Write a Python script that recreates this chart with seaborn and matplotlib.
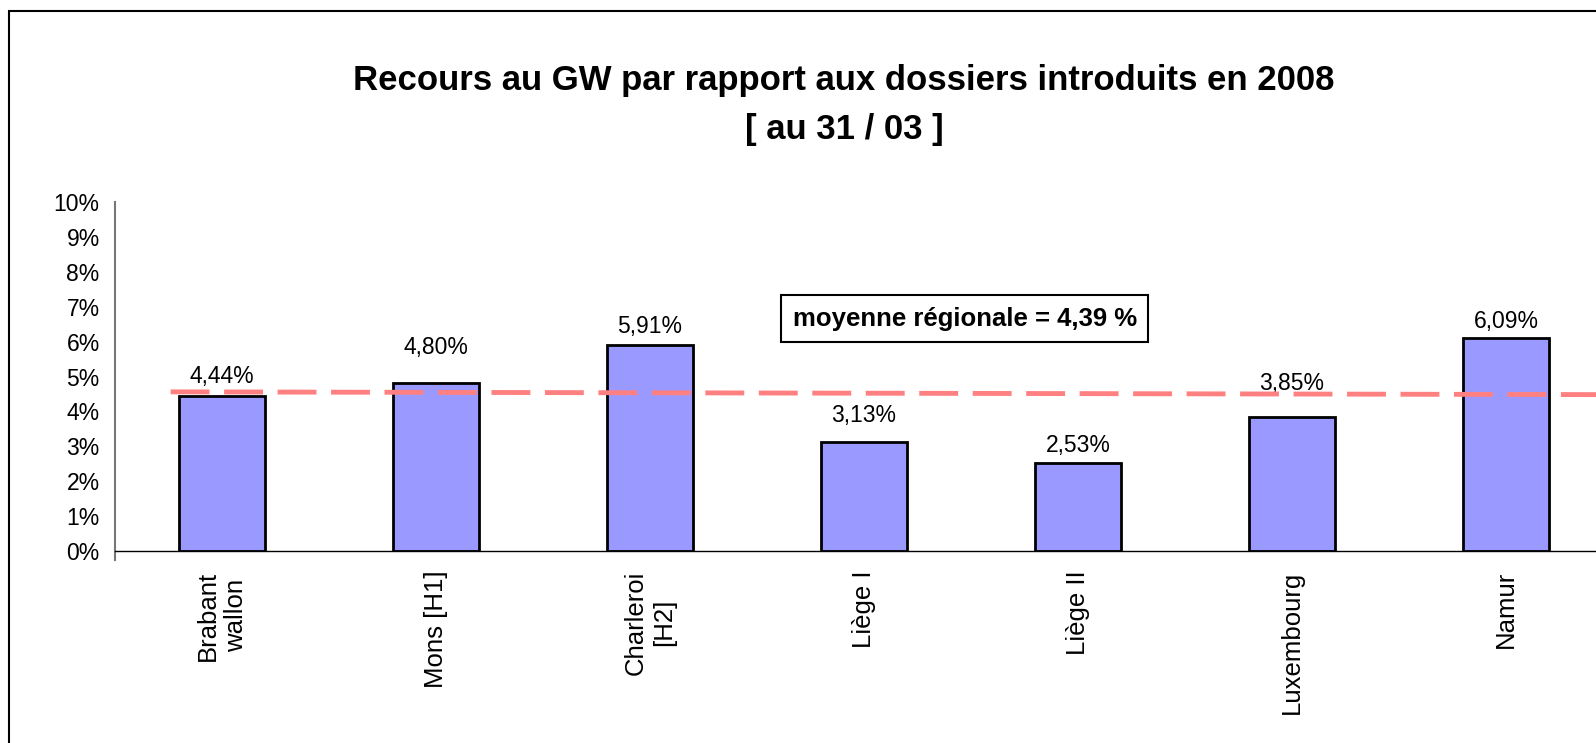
import matplotlib
matplotlib.use("Agg")
import matplotlib.pyplot as plt
import matplotlib.patches as mpatches
import seaborn as sns
import pandas as pd

categories = ["Brabant\nwallon", "Mons [H1]", "Charleroi\n[H2]", "Liège I",
              "Liège II", "Luxembourg", "Namur"]
values = [4.44, 4.80, 5.91, 3.13, 2.53, 3.85, 6.09]
value_labels = ["4,44%", "4,80%", "5,91%", "3,13%", "2,53%", "3,85%", "6,09%"]
# hauteur des etiquettes (placees a la main dans l'original)
label_y = [4.99, 5.84, 6.42, 3.88, 3.01, 4.81, 6.57]
moyenne_txt = "moyenne régionale = 4,39 %"
moyenne_line = [4.56, 4.48]

sns.set_style("white")
plt.rcParams["font.family"] = ["Liberation Sans", "DejaVu Sans"]
plt.rcParams["text.color"] = "black"
plt.rcParams["xtick.color"] = "black"
plt.rcParams["ytick.color"] = "black"

df = pd.DataFrame({"cat": categories, "val": values})

fig = plt.figure(figsize=(15.96, 7.43), dpi=100)
ax = fig.add_axes([115 / 1596, 1 - 551 / 743, 7 * 214 / 1596, 349 / 743])

sns.barplot(data=df, x="cat", y="val", color="#9999FF", saturation=1,
            edgecolor="black", linewidth=2, width=0.4, ax=ax)

ax.set_xlim(-0.5, 6.5)
ax.set_ylim(0, 10)
ax.set_yticks(range(0, 11))
ax.set_yticklabels([f"{i}%" for i in range(0, 11)], fontsize=16.5)
ax.set_xticks(range(len(categories)))
ax.set_xticklabels(categories, rotation=90, fontsize=18.5, va="top",
                   ha="center", linespacing=1.2)
ax.set_xticks([i - 0.5 for i in range(len(categories) + 1)], minor=True)
ax.tick_params(axis="x", which="major", length=0, pad=14)
ax.tick_params(axis="x", which="minor", length=7, width=1, direction="out",
               color="black")
ax.tick_params(axis="y", length=7, width=1, direction="out", color="#555555",
               pad=4)
ax.set_xlabel("")
ax.set_ylabel("")

for s in ["top", "right"]:
    ax.spines[s].set_visible(False)
ax.spines["left"].set_color("#777777")
ax.spines["left"].set_linewidth(1.5)
ax.spines["left"].set_bounds(-0.25, 10)
ax.spines["bottom"].set_color("black")
ax.spines["bottom"].set_linewidth(1)

for i, (lab, y) in enumerate(zip(value_labels, label_y)):
    ax.text(i, y, lab, ha="center", va="center", fontsize=16.5)

# ligne moyenne (pointilles)
ax.plot([-0.24, 6.5], moyenne_line, color="#FF8080", lw=3.5,
        dashes=(8, 3), zorder=5, clip_on=False)

ax.text(3.47, 6.65, moyenne_txt, ha="center", va="center", fontsize=18.5,
        fontweight="bold",
        bbox=dict(boxstyle="square,pad=0.45", fc="white", ec="black", lw=1.5))

fig.text(844 / 1596, 1 - 105 / 743,
         "Recours au GW par rapport aux dossiers introduits en 2008\n[ au 31 / 03 ]",
         ha="center", va="center", fontsize=25, fontweight="bold",
         linespacing=1.6)

# cadre du graphique
fig.patches.append(mpatches.Rectangle((9 / 1596, -0.1), 1.2, 1.1 - 11 / 743,
                                      transform=fig.transFigure, fill=False,
                                      ec="black", lw=1.5))

fig.savefig("out.png", dpi=100)
